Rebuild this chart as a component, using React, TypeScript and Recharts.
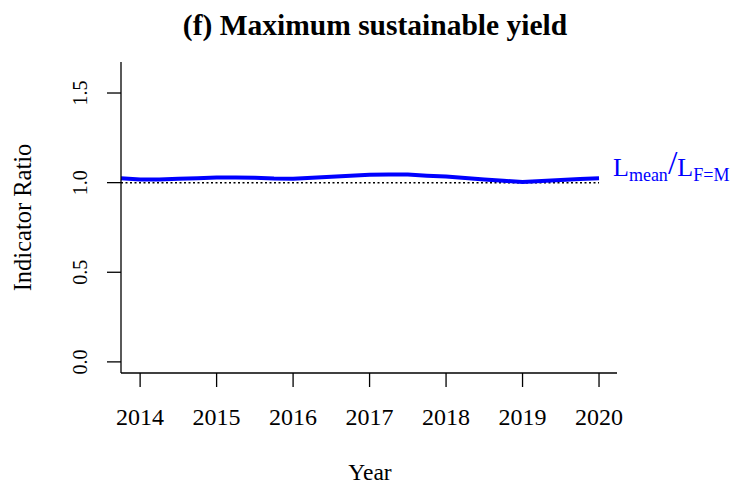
import { LineChart, Line, XAxis, YAxis, ReferenceLine } from "recharts";

// quarterly indicator ratio
const years = [
  2013.75, 2014, 2014.25, 2014.5, 2014.75, 2015, 2015.25, 2015.5, 2015.75,
  2016, 2016.25, 2016.5, 2016.75, 2017, 2017.25, 2017.5, 2017.75,
  2018, 2018.25, 2018.5, 2018.75, 2019, 2019.25, 2019.5, 2019.75, 2020,
];
const ratio = [
  1.024, 1.018, 1.018, 1.021, 1.025, 1.028, 1.029, 1.027, 1.023,
  1.022, 1.027, 1.033, 1.039, 1.044, 1.046, 1.045, 1.039,
  1.034, 1.026, 1.018, 1.010, 1.004, 1.009, 1.015, 1.020, 1.024,
];
const xTicks = [2014, 2015, 2016, 2017, 2018, 2019, 2020];
const yTicks = [0, 0.5, 1, 1.5];
const refLevel = 1;

const data = years.map((year, i) => ({ year, ratio: ratio[i] }));

const FONT = "'Liberation Serif', 'Times New Roman', serif";

const YTick = ({ y, payload }: any) => (
  <text
    x={87}
    y={y}
    transform={`rotate(-90 87 ${y})`}
    textAnchor="middle"
    fontFamily={FONT}
    fontSize={20}
    fill="#000"
  >
    {payload.value.toFixed(1)}
  </text>
);

const XTick = ({ x, y, payload }: any) => (
  <text x={x} y={y + 36} textAnchor="middle" fontFamily={FONT} fontSize={24} fill="#000">
    {payload.value}
  </text>
);

export default function App() {
  return (
    <div style={{ position: "absolute", left: 0, top: 0, width: 734, height: 486, background: "#fff" }}>
      <LineChart width={734} height={486} data={data} margin={{ top: 62, right: 117, left: 0, bottom: 0 }}>
        <XAxis
          dataKey="year"
          type="number"
          domain={[2013.75, 2020.235]}
          ticks={xTicks}
          height={113}
          tickSize={14}
          tick={<XTick />}
          axisLine={{ stroke: "#000", strokeWidth: 1.3 }}
          tickLine={{ stroke: "#000", strokeWidth: 1.3 }}
        />
        <YAxis
          type="number"
          domain={[-0.062, 1.673]}
          ticks={yTicks}
          width={121}
          tickSize={14}
          tick={<YTick />}
          axisLine={{ stroke: "#000", strokeWidth: 1.3 }}
          tickLine={{ stroke: "#000", strokeWidth: 1.3 }}
        />
        <ReferenceLine
          segment={[{ x: 2013.75, y: refLevel }, { x: 2020, y: refLevel }]}
          stroke="#000"
          strokeWidth={1.5}
          strokeDasharray="2 2.5"
        />
        <Line
          type="linear"
          dataKey="ratio"
          stroke="#0000ff"
          strokeWidth={4}
          dot={false}
          isAnimationActive={false}
        />
      </LineChart>
      <svg
        width={734}
        height={486}
        style={{ position: "absolute", left: 0, top: 0, pointerEvents: "none" }}
        fontFamily={FONT}
      >
        <text x={375} y={34.5} textAnchor="middle" fontSize={29.5} fontWeight="bold" fill="#000">
          (f) Maximum sustainable yield
        </text>
        <text x={370} y={480} textAnchor="middle" fontSize={23.5} fill="#000">
          Year
        </text>
        <text
          x={31}
          y={217.5}
          transform="rotate(-90 31 217.5)"
          textAnchor="middle"
          fontSize={24.5}
          fill="#000"
        >
          Indicator Ratio
        </text>
        <text x={613} y={176} fontSize={26} fill="#0000ff">
          L
          <tspan fontSize={18} dy={5}>mean</tspan>
          <tspan fontSize={34} dy={-7}>/</tspan>
          <tspan fontSize={26} dy={2}>L</tspan>
          <tspan fontSize={18} dy={5}>F=M</tspan>
        </text>
      </svg>
    </div>
  );
}
